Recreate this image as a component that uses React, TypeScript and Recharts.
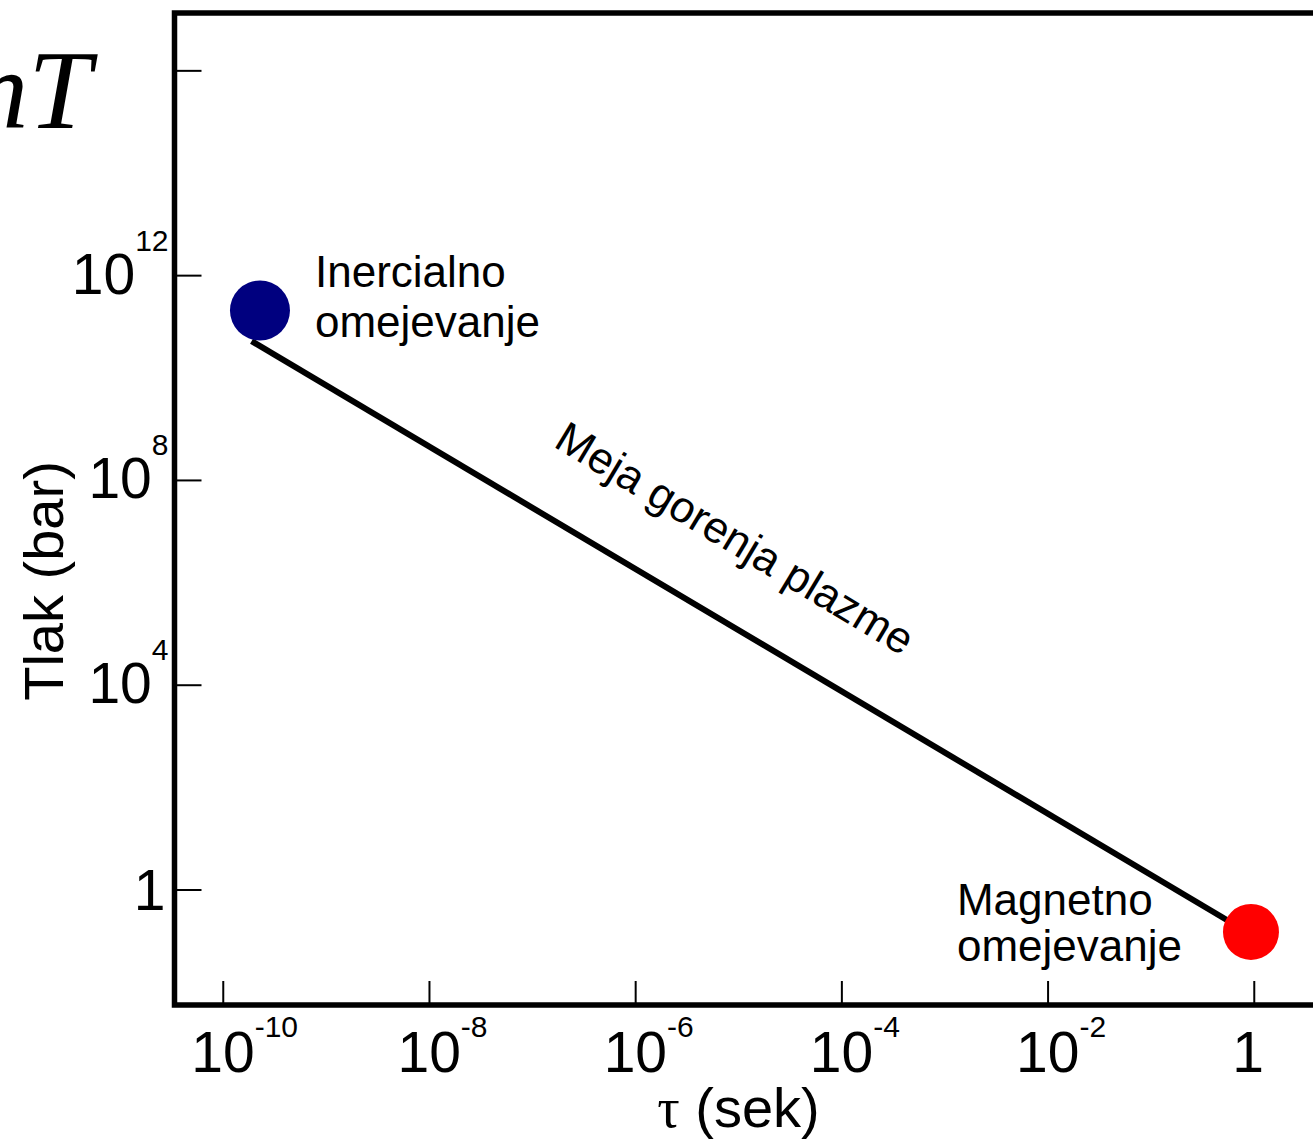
import React from 'react';
import {
  ComposedChart,
  XAxis,
  YAxis,
  Line,
  Scatter,
  ReferenceArea,
  ReferenceDot,
  Customized,
} from 'recharts';

const FONT = '"Liberation Sans", Arial, Helvetica, sans-serif';
const SERIF = '"Liberation Serif", "Times New Roman", serif';

// everything is stored as log10: x = log10(tau / s), y = log10(p / bar)
const xTicks = [-10, -8, -6, -4, -2, 0];
const yTicks = [0, 4, 8, 12, 16];
const yUnlabeled = [16];
const xDomain: [number, number] = [-10.473, 0.686];
const yDomain: [number, number] = [-2.246, 17.13];

const burnLine = [
  { x: -9.725, y: 10.72 },
  { x: -0.245, y: -0.61 },
];
const inertial = [{ x: -9.644, y: 11.32, lines: ['Inercialno', 'omejevanje'] }];
const magnetic = [{ x: -0.032, y: -0.82, lines: ['Magnetno', 'omejevanje'] }];

const lineLabel = 'Meja gorenja plazme';
const xTitle = ['τ', ' (sek)'];
const yTitle = 'Tlak (bar)';
const cornerText = 'nT';

const XTick = (props: any) => {
  const { x, y, payload } = props;
  const v = payload.value;
  return (
    <g>
      <line x1={x} x2={x} y1={y - 24} y2={y} stroke="#000" strokeWidth={2} />
      {v === 0 ? (
        <text x={x - 22} y={y + 67} fontSize={57} fontFamily={FONT} fill="#000">1</text>
      ) : (
        <text x={x - 32} y={y + 67} fontSize={57} fontFamily={FONT} fill="#000">
          10<tspan dy={-35} fontSize={30}>{v}</tspan>
        </text>
      )}
    </g>
  );
};

const YTick = (props: any) => {
  const { x, y, payload } = props;
  const v = payload.value;
  let label = null;
  if (!yUnlabeled.includes(v)) {
    label =
      v === 0 ? (
        <text x={x - 9} y={y + 20} textAnchor="end" fontSize={57} fontFamily={FONT} fill="#000">1</text>
      ) : (
        <text x={x - 6} y={y + 18} textAnchor="end" fontSize={57} fontFamily={FONT} fill="#000">
          10<tspan dy={-43} fontSize={30}>{v}</tspan>
        </text>
      );
  }
  return (
    <g>
      <line x1={x} x2={x + 27} y1={y} y2={y} stroke="#000" strokeWidth={2} />
      {label}
    </g>
  );
};

const inertialShape = (props: any) => {
  const { cx, cy, payload } = props;
  return (
    <g>
      <circle cx={cx} cy={cy} r={30} fill="#00007f" />
      <text x={cx + 55} y={cy - 23} fontSize={44} fontFamily={FONT} fill="#000">
        {payload.lines[0]}
      </text>
      <text x={cx + 55} y={cy + 27} fontSize={44} fontFamily={FONT} fill="#000">
        {payload.lines[1]}
      </text>
    </g>
  );
};

const magneticShape = (props: any) => {
  const { cx, cy, payload } = props;
  return (
    <g>
      <circle cx={cx} cy={cy} r={28} fill="#ff0000" />
      <text x={cx - 294} y={cy - 17} fontSize={44} fontFamily={FONT} fill="#000">
        {payload.lines[0]}
      </text>
      <text x={cx - 294} y={cy + 29} fontSize={44} fontFamily={FONT} fill="#000">
        {payload.lines[1]}
      </text>
    </g>
  );
};

const midX = (burnLine[0].x + burnLine[1].x) / 2;
const midY = (burnLine[0].y + burnLine[1].y) / 2;

const lineLabelContent = (props: any) => {
  const vb = props.viewBox;
  const cx = vb.x + vb.width / 2;
  const cy = vb.y + vb.height / 2;
  return (
    <text
      transform={`translate(${cx - 13},${cy - 80}) rotate(31)`}
      textAnchor="middle"
      fontSize={44}
      fontFamily={FONT}
      fill="#000"
    >
      {lineLabel}
    </text>
  );
};

const xTitleContent = (props: any) => {
  const vb = props.viewBox;
  return (
    <text x={vb.x + 564} y={vb.y + 122} textAnchor="middle" fontSize={56} fontFamily={FONT} fill="#000">
      <tspan fontFamily={SERIF}>{xTitle[0]}</tspan>
      {xTitle[1]}
    </text>
  );
};

const yTitleContent = (props: any) => {
  const vb = props.viewBox;
  return (
    <text
      transform={`translate(${vb.x + 63},${vb.y + 568}) rotate(-90)`}
      textAnchor="middle"
      fontSize={56}
      fontFamily={FONT}
      fill="#000"
    >
      {yTitle}
    </text>
  );
};

const Corner = () => (
  <text x={91} y={128} textAnchor="end" fontSize={113} fontFamily={SERIF} fontStyle="italic" fill="#000">
    {cornerText}
  </text>
);

export default function App() {
  return (
    <div
      style={{
        position: 'absolute',
        left: 0,
        top: 0,
        width: 1313,
        height: 1144,
        overflow: 'hidden',
        background: '#fff',
      }}
    >
      <ComposedChart width={1325} height={1144} margin={{ top: 13, right: 0, bottom: 0, left: 0 }}>
        <XAxis
          type="number"
          dataKey="x"
          domain={xDomain}
          allowDataOverflow
          ticks={xTicks}
          interval={0}
          axisLine={false}
          tickLine={false}
          tickSize={0}
          tickMargin={0}
          height={139}
          tick={<XTick />}
          label={{ content: xTitleContent }}
        />
        <YAxis
          type="number"
          dataKey="y"
          domain={yDomain}
          allowDataOverflow
          ticks={yTicks}
          interval={0}
          axisLine={false}
          tickLine={false}
          tickSize={0}
          tickMargin={0}
          width={174.5}
          tick={<YTick />}
          label={{ content: yTitleContent }}
        />
        <ReferenceArea
          x1={xDomain[0]}
          x2={xDomain[1]}
          y1={yDomain[0]}
          y2={yDomain[1]}
          fill="none"
          fillOpacity={0}
          stroke="#000"
          strokeWidth={5.5}
          ifOverflow="visible"
        />
        <Line
          data={burnLine}
          dataKey="y"
          type="linear"
          stroke="#000"
          strokeWidth={6}
          dot={false}
          activeDot={false}
          isAnimationActive={false}
        />
        <Scatter data={inertial} dataKey="y" shape={inertialShape} isAnimationActive={false} />
        <Scatter data={magnetic} dataKey="y" shape={magneticShape} isAnimationActive={false} />
        <ReferenceDot
          x={midX}
          y={midY}
          r={0}
          fill="none"
          stroke="none"
          ifOverflow="visible"
          label={lineLabelContent}
        />
        <Customized component={Corner} />
      </ComposedChart>
    </div>
  );
}
